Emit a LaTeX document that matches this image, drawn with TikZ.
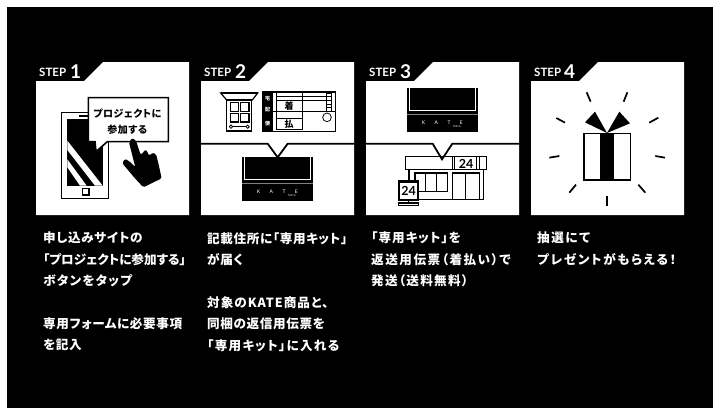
\documentclass[tikz,border=0pt]{standalone}
\usepackage{fontspec}
\setmainfont{Lato}
\newfontfamily\jpfont[RawFeature=+palt,LetterSpace=5]{Noto Sans CJK JP}
\newcommand{\spaced}[2]{{\addfontfeature{LetterSpace=#1}#2}}
\tikzset{
  card/.style={fill=white},
  steplabel/.style={text=white,anchor=base west,inner sep=0pt,font=\bfseries\fontsize{11.5}{11.5}\selectfont},
  stepnum/.style={text=white,anchor=base west,inner sep=0pt,font=\bfseries\fontsize{19}{19}\selectfont},
  guide/.style={text=white,anchor=north west,inner sep=0pt,align=left,font=\jpfont\bfseries\fontsize{12.6}{21.4}\selectfont},
  icon/.style={draw=black,line width=1.6pt},
  thin/.style={draw=black,line width=0.8pt},
  ray/.style={draw=black,line width=1.7pt},
  divider/.style={draw=black,line width=1.8pt},
  bubbletext/.style={inner sep=0pt,font=\jpfont\bfseries\fontsize{10}{10}\selectfont},
  formtext/.style={inner sep=0pt,font=\jpfont\bfseries\fontsize{9}{9}\selectfont},
  sidetext/.style={inner sep=0pt,text=white,font=\jpfont\bfseries\fontsize{5}{5}\selectfont},
  shoptext/.style={inner sep=0pt,font=\bfseries\fontsize{12.5}{12.5}\selectfont},
  kitbox/.pic={
    \fill[black] (0,0) rectangle (215,131);
    \draw[white,line width=0.6pt] (7,0) -- (7,66) -- (207,66) -- (207,0);
    \draw[gray,line width=0.4pt] (0,78) -- (215,78);
    \node[text=white,inner sep=0pt,font=\fontsize{5}{5}\selectfont] (kate) at (107,103) {K\hspace{9.5pt}A\hspace{9.5pt}T\hspace{9.5pt}E};
    \node[text=white,inner sep=0pt,font=\fontsize{2.4}{2.4}\selectfont] (tokyo) at (150,114) {TOKYO};
  }
}
\begin{document}
\begin{tikzpicture}[x=1pt,y=-1pt]
  \useasboundingbox (0,0) rectangle (720,415);
  \fill[white] (0,0) rectangle (720,415);
  \fill[black] (7,7) rectangle (713,408);

  \fill[card] (36,81) -- (84,81) -- (103,62) -- (189,62) -- (189,215) -- (36,215) -- cycle;
  \fill[card] (201,81) -- (249,81) -- (268,62) -- (354,62) -- (354,215) -- (201,215) -- cycle;
  \fill[card] (366,81) -- (414,81) -- (433,62) -- (519,62) -- (519,215) -- (366,215) -- cycle;
  \fill[card] (531,81) -- (579,81) -- (598,62) -- (684,62) -- (684,215) -- (531,215) -- cycle;

  \node[steplabel] (step1) at (39,76) {STEP};
  \node[stepnum] (num1) at (70,78) {1};
  \node[steplabel] (step2) at (204,76) {STEP};
  \node[stepnum] (num2) at (235,78) {2};
  \node[steplabel] (step3) at (369,76) {STEP};
  \node[stepnum] (num3) at (400,78) {3};
  \node[steplabel] (step4) at (534,76) {STEP};
  \node[stepnum] (num4) at (564,78) {4};

  \begin{scope}[shift={(20,50)},scale=1/3]
    \draw[icon] (125,187) rectangle (265,445);
    \draw[icon] (178,198) -- (205,198);
    \fill[black] (142,207) rectangle (248,407);
    \fill[white] (142,300) -- (225,407) -- (248,407) -- (142,272) -- cycle;
    \fill[white] (142,352) -- (180,407) -- (200,407) -- (142,328) -- cycle;
    \draw[icon] (187,415) rectangle (207,435);
    \draw[icon,fill=white] (205,143) -- (445,143) -- (445,275) -- (262,275) -- (228,305) -- (225,275) -- (205,275) -- cycle;
    \node[bubbletext] (bubble1) at (322,190) {プロジェクトに};
    \node[bubbletext] (bubble2) at (322,238) {参加する};
    \fill[black,rounded corners=1.5pt] (327,277) -- (338,263) -- (349,275) -- (362,315) -- (378,298) -- (388,318) -- (396,308) -- (408,312) -- (414,335) -- (425,385) -- (370,412) -- (345,385) -- (307,340) -- (315,326) -- (332,337) -- (346,352) -- cycle;
  \end{scope}

  \begin{scope}[shift={(195,50)},scale=1/3]
    \draw[icon,line width=1.2pt,fill=white] (77,129) -- (188,129) -- (172,150) -- (95,150) -- cycle;
    \fill[black] (77,126) rectangle (188,132);
    \draw[icon] (95,150) rectangle (170,243);
    \draw[thin,line width=1.1pt] (107,158) rectangle (131,185);
    \draw[thin,line width=1.1pt] (136,158) rectangle (162,185);
    \draw[thin,line width=1.1pt] (107,190) rectangle (131,216);
    \draw[thin,line width=1.1pt] (136,190) rectangle (162,216);
    \draw[thin] (113,230) -- (153,230);
    \draw[thin] (108,230) circle (5);
    \draw[thin] (158,230) circle (5);

    \draw[thin] (203,123) rectangle (420,243);
    \fill[black] (203,123) rectangle (233,243);
    \fill[black] (203,123) rectangle (420,130);
    \node[sidetext] (side1) at (218,145) {宅};
    \node[sidetext] (side2) at (218,180) {配};
    \node[sidetext] (side3) at (218,220) {便};
    \draw[thin] (245,130) -- (245,240);
    \draw[thin] (323,130) -- (323,240);
    \draw[thin] (245,140) -- (393,140);
    \draw[thin] (245,152) -- (393,152);
    \draw[thin] (233,183) -- (420,183);
    \draw[thin] (245,205) -- (323,205);
    \draw[thin] (245,238) -- (323,238);
    \draw[thin] (393,130) rectangle (408,183);
    \draw[thin] (393,140) -- (408,140);
    \draw[thin] (393,152) -- (408,152);
    \draw[thin] (393,163) -- (408,163);
    \draw[thin] (393,173) -- (408,173);
    \draw[thin] (396,202) circle (13);
    \node[formtext] (chaku) at (282,168) {着};
    \node[formtext] (harai) at (282,222) {払};

    \draw[divider] (18,281) -- (218,281) -- (248,322) -- (278,281) -- (478,281);
    \pic[scale=1/3] at (140,322) {kitbox};
  \end{scope}

  \begin{scope}[shift={(360,50)},scale=1/3]
    \pic[scale=1/3] at (140,115) {kitbox};
    \draw[icon] (137,320) rectangle (380,358);
    \draw[thin] (276,320) -- (276,358);
    \draw[thin] (284,320) -- (284,358);
    \draw[thin] (350,320) -- (350,358);
    \draw[thin] (358,320) -- (358,358);
    \node[shoptext] (sign1) at (318,342) {24};
    \draw[thin,line width=1.1pt] (147,358) -- (147,392);
    \draw[thin,line width=1.1pt] (370,358) -- (370,449);
    \draw[thin,line width=1.1pt] (165,449) -- (371,449);
    \draw[thin,line width=1.2pt] (165,392) -- (165,369) -- (263,369) -- (263,425) -- (175,425);
    \draw[thin] (197,369) -- (197,425);
    \draw[thin] (230,369) -- (230,425);
    \draw[thin,line width=1.1pt] (277,449) -- (277,369) -- (358,369) -- (358,449);
    \draw[thin] (317,369) -- (317,449);
    \draw[icon,fill=white] (117,392) rectangle (174,450);
    \fill[black] (117,392) rectangle (174,400);
    \node[shoptext] (sign2) at (146,424) {24};
    \draw[icon,line width=1.2pt] (115,459) rectangle (176,466);
    \draw[icon] (145,450) -- (145,459);
    \draw[divider] (18,281) -- (218,281) -- (246,328) -- (277,281) -- (478,281);
  \end{scope}

  \begin{scope}[shift={(525,50)},scale=1/3]
    \draw[icon] (177,251) rectangle (317,390);
    \fill[black] (225,251) rectangle (267,390);
    \fill[black] (246,249) -- (210,185) -- (180,217) -- cycle;
    \fill[black] (246,249) -- (283,185) -- (315,220) -- cycle;
    \draw[ray] (185,127) -- (197,155);
    \draw[ray] (307,127) -- (296,155);
    \draw[ray] (94,204) -- (120,218);
    \draw[ray] (400,203) -- (373,218);
    \draw[ray] (73,323) -- (103,318);
    \draw[ray] (420,323) -- (391,318);
    \draw[ray] (153,404) -- (133,428);
    \draw[ray] (340,404) -- (361,428);
    \draw[ray] (246,438) -- (246,468);
  \end{scope}

  \node[guide] (text1) at (43,232) {申し込みサイトの\\\spaced{0}{「プロジェクトに参加する」}\\\spaced{10}{ボタンをタップ}\\[21.4pt]専用フォームに必要事項\\を記入};
  \node[guide] (text2) at (207,232) {記載住所に「専用キット」\\が届く\\[21.4pt]\spaced{8}{対象のKATE商品と、}\\同梱の返信用伝票を\\\spaced{10}{「専用キット」に入れる}};
  \node[guide] (text3) at (371,232) {\spaced{8}{「専用キット」を}\\\spaced{12}{返送用伝票（着払い）で}\\\spaced{10}{発送（送料無料）}};
  \node[guide] (text4) at (537,232) {\spaced{12}{抽選にて}\\\spaced{13}{プレゼントがもらえる！}};
\end{tikzpicture}
\end{document}
